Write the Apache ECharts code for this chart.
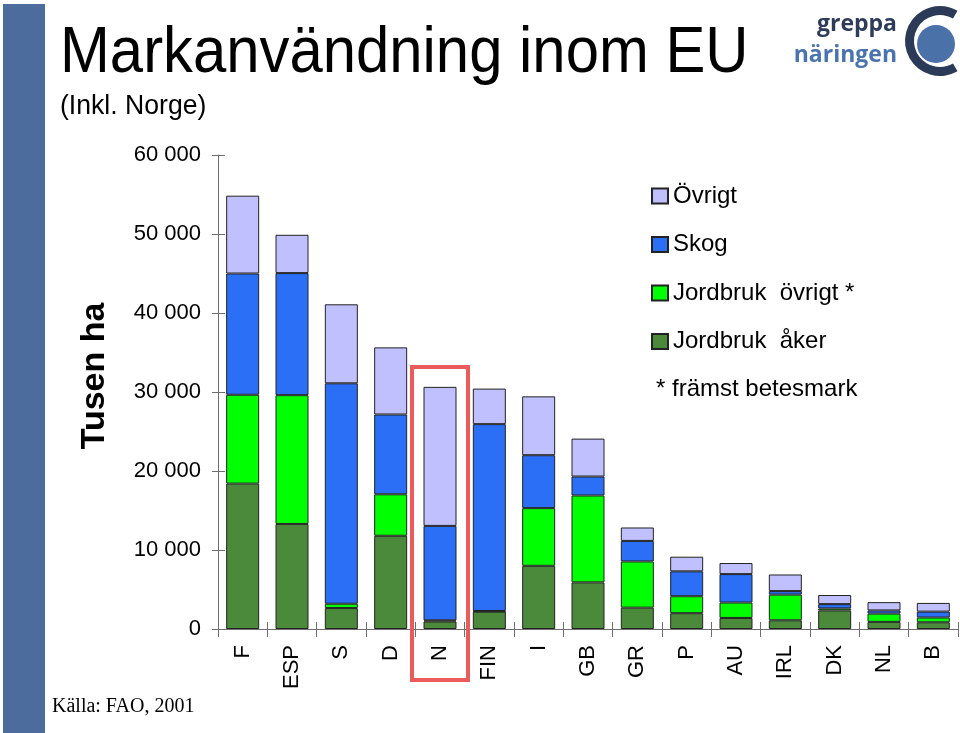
<!DOCTYPE html>
<html>
<head>
<meta charset="utf-8">
<script src="https://cdn.jsdelivr.net/npm/echarts@6/dist/echarts.min.js"></script>
<style>
html,body{margin:0;padding:0;background:#fff;}
#c{width:960px;height:733px;}
</style>
</head>
<body>
<div id="c"></div>
<script>
// ---- data (thousand hectares) ----
const categories = ['F','ESP','S','D','N','FIN','I','GB','GR','P','AU','IRL','DK','NL','B'];
const jordbrukAker  = [18400, 13300, 2650, 11800, 950, 2200, 8000, 5900, 2700, 2000, 1400, 1100, 2350, 900, 850];
const jordbrukOvrigt = [11250, 16300, 550, 5250, 150, 80, 7300, 11000, 5850, 2150, 1950, 3250, 250, 1050, 600];
const skog          = [15350, 15450, 27900, 10100, 11950, 23650, 6700, 2400, 2600, 3150, 3600, 450, 550, 400, 750];
const ovrigt        = [9850, 4850, 10000, 8500, 17600, 4500, 7450, 4800, 1700, 1850, 1400, 2100, 1150, 1050, 1100];
const seriesNames = ['Jordbruk  åker', 'Jordbruk  övrigt *', 'Skog', 'Övrigt'];
const yTickLabels = ['0', '10 000', '20 000', '30 000', '40 000', '50 000', '60 000'];
const highlighted = 'N';

const colors = ['#4b8a3b', '#00ff00', '#2b6ff7', '#c0c0ff'];
const seriesData = [jordbrukAker, jordbrukOvrigt, skog, ovrigt];

const chart = echarts.init(document.getElementById('c'), null, {renderer: 'canvas'});
const axisColor = '#6e6e6e';
const font = 'Liberation Sans, Arial, sans-serif';

const option = {
  animation: false,
  backgroundColor: '#fff',
  grid: {left: 218, right: 2, top: 155, bottom: 104, containLabel: false},
  legend: {
    orient: 'vertical', left: 651, top: 184, padding: 0,
    itemWidth: 16, itemHeight: 15, itemGap: 24.5,
    data: ['Övrigt', 'Skog', 'Jordbruk  övrigt *', 'Jordbruk  åker'],
    textStyle: {fontFamily: font, fontSize: 24, color: '#000', lineHeight: 24},
    icon: 'rect', selectedMode: false
  },
  xAxis: [{
    type: 'category', data: categories, gridIndex: 0, position: 'bottom',
    axisLine: {lineStyle: {color: axisColor, width: 1}},
    axisTick: {show: true, length: 8, lineStyle: {color: axisColor}},
    axisLabel: {rotate: 90, margin: 16, fontFamily: font, fontSize: 22, color: '#000'}
  }, {
    type: 'category', data: categories, gridIndex: 0, position: 'bottom',
    axisLine: {show: false},
    axisTick: {show: true, inside: true, length: 7, lineStyle: {color: axisColor}},
    axisLabel: {show: false}
  }],
  yAxis: [{
    type: 'value', min: 0, max: 60000, interval: 10000, position: 'left',
    splitLine: {show: false},
    axisLine: {show: true, lineStyle: {color: axisColor, width: 1}},
    axisTick: {show: true, length: 6, lineStyle: {color: axisColor}},
    axisLabel: {margin: 17, fontFamily: font, fontSize: 22, color: '#000',
      formatter: v => yTickLabels[Math.round(v / 10000)]}
  }, {
    type: 'value', min: 0, max: 60000, interval: 10000, position: 'left',
    splitLine: {show: false},
    axisLine: {show: false},
    axisTick: {show: true, inside: true, length: 7, lineStyle: {color: axisColor}},
    axisLabel: {show: false}
  }],
  series: seriesNames.map((name, i) => ({
    name: name, type: 'bar', stack: 'total', xAxisIndex: 0, yAxisIndex: 0,
    barWidth: 33,
    itemStyle: {color: colors[i], borderColor: '#222', borderWidth: 1},
    data: seriesData[i]
  })),
  graphic: [
    {type: 'rect', id: 'stripe', shape: {x: 3, y: 4, width: 42, height: 729}, style: {fill: '#4b6c9d'}},
    {type: 'text', id: 'title', x: 60, y: 54, scaleX: 0.935, style: {text: 'Markanvändning inom EU', font: '64px ' + font, fill: '#000', align: 'left', verticalAlign: 'middle'}},
    {type: 'text', id: 'sub', x: 60, y: 106, scaleX: 0.95, style: {text: '(Inkl. Norge)', font: '28px ' + font, fill: '#000', align: 'left', verticalAlign: 'middle'}},
    {type: 'text', id: 'ylab', x: 95, y: 376, rotation: Math.PI / 2, style: {text: 'Tusen ha', font: 'bold 34px ' + font, fill: '#000', align: 'center', verticalAlign: 'middle'}},
    {type: 'text', id: 'note', x: 656, y: 389, style: {text: '* främst betesmark', font: '24px ' + font, fill: '#000', align: 'left', verticalAlign: 'middle'}},
    {type: 'text', id: 'src', x: 52, y: 707, style: {text: 'Källa: FAO, 2001', font: '20px Liberation Serif, Times New Roman, serif', fill: '#000', align: 'left', verticalAlign: 'middle'}},
    {type: 'text', id: 'logo1', x: 897, y: 24, style: {text: 'greppa', font: 'bold 23px Open Sans, sans-serif', fill: '#2e3c5a', align: 'right', verticalAlign: 'middle'}},
    {type: 'text', id: 'logo2', x: 897, y: 55, style: {text: 'näringen', font: 'bold 23px Open Sans, sans-serif', fill: '#4a74ad', align: 'right', verticalAlign: 'middle'}},
    {type: 'sector', id: 'ring', shape: {cx: 940, cy: 41, r: 35, r0: 26, startAngle: Math.PI / 3, endAngle: Math.PI * 5 / 3, clockwise: true}, style: {fill: '#2b3a56'}},
    {type: 'circle', id: 'dot', shape: {cx: 936, cy: 44, r: 19}, style: {fill: '#4a72a8'}}
  ]
};
chart.setOption(option);

const cx = chart.convertToPixel({xAxisIndex: 0}, highlighted);
chart.setOption({
  graphic: [{type: 'rect', id: 'hl', shape: {x: cx - 28, y: 367, width: 56, height: 313},
    style: {fill: 'none', stroke: '#ec5b5b', lineWidth: 4}, z: 100}]
});
</script>
</body>
</html>
